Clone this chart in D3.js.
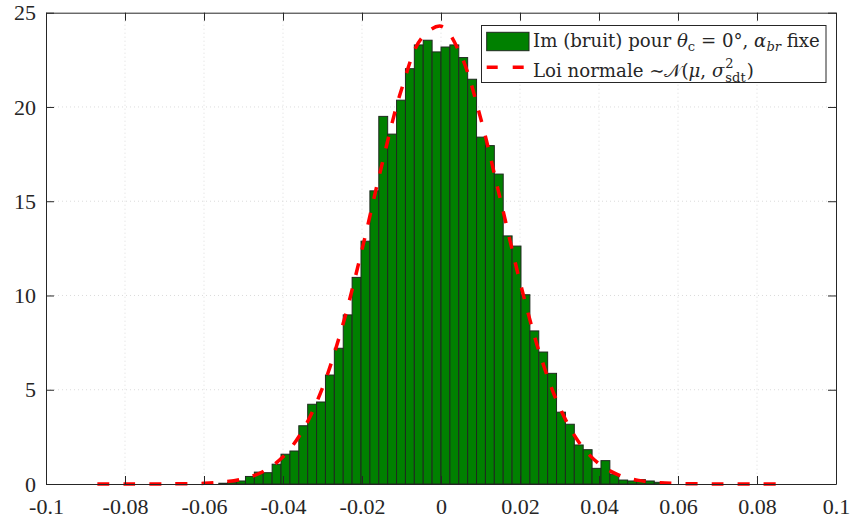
<!DOCTYPE html>
<html><head><meta charset="utf-8">
<script src="https://cdn.jsdelivr.net/npm/d3@7"></script>
<style>body{margin:0;background:#fff}svg{display:block}</style>
</head><body><svg id="c" width="854" height="524"></svg>
<script>
// Histogram bin edges (left edges + final right edge)
const binEdges = [-0.05625,-0.054,-0.05175,-0.0495,-0.04725,-0.045,-0.04275,-0.0405,-0.03825,-0.036,
 -0.03375,-0.0315,-0.02925,-0.027,-0.02475,-0.0225,-0.02025,-0.018,-0.01575,-0.0135,
 -0.01125,-0.009,-0.00675,-0.0045,-0.00225,0,0.00225,0.0045,0.00675,0.009,
 0.01125,0.0135,0.01575,0.018,0.02025,0.0225,0.02475,0.027,0.02925,0.0315,
 0.03375,0.036,0.03825,0.0405,0.04275,0.045,0.04725,0.0495,0.05175,0.054,0.05625];
// Density of each bin
const density = [0.04,0.09,0.16,0.40,0.63,0.60,1.05,1.58,1.75,3.09,
 4.23,4.35,5.78,7.20,8.97,10.96,12.88,15.55,19.50,18.56,
 20.36,22.03,23.29,23.54,22.92,23.18,23.29,22.62,21.47,18.40,
 17.95,16.44,13.16,12.62,10.04,8.12,7.00,5.87,3.81,3.17,
 2.07,1.82,0.83,1.24,0.52,0.21,0.16,0.23,0.16,0.09];
// Normal curve samples
const curveX = [-0.087,-0.08,-0.07,-0.06,-0.055,-0.05,-0.045,-0.04,-0.035,-0.03,-0.025,-0.02,-0.015,-0.01,-0.005,0,
 0.005,0.01,0.015,0.02,0.025,0.03,0.035,0.04,0.045,0.05,0.055,0.06,0.07,0.08,0.085];
const curveY = [0,0.0002,0.0035,0.038,0.108,0.28,0.665,1.44,2.84,5.10,8.34,12.43,16.90,20.93,23.62,24.28,
 22.76,19.43,15.12,10.72,6.92,4.08,2.19,1.07,0.476,0.193,0.0715,0.024,0.002,0,0];
const xTicks = [-0.1,-0.08,-0.06,-0.04,-0.02,0,0.02,0.04,0.06,0.08,0.1];
const xTickLabels = ["-0.1","-0.08","-0.06","-0.04","-0.02","0","0.02","0.04","0.06","0.08","0.1"];
const yTicks = [0,5,10,15,20,25];

const svg = d3.select("#c");
const L=46, R=836, T=12.7, B=484;
const x = d3.scaleLinear().domain([-0.1,0.1]).range([L,R]);
const y = d3.scaleLinear().domain([0,25]).range([B,T]);
const axisCol = "#262626";
const tickFont = "'Liberation Serif', serif";
const legFont = "'DejaVu Serif', serif";

// grid
const g = svg.append("g");
g.selectAll(".gx").data(xTicks.slice(1,-1)).join("line")
 .attr("x1",d=>x(d)).attr("x2",d=>x(d)).attr("y1",T).attr("y2",B)
 .attr("stroke","#dcdcdc").attr("stroke-width",1).attr("stroke-dasharray","1,3");
g.selectAll(".gy").data(yTicks.slice(1,-1)).join("line")
 .attr("y1",d=>y(d)).attr("y2",d=>y(d)).attr("x1",L).attr("x2",R)
 .attr("stroke","#dcdcdc").attr("stroke-width",1).attr("stroke-dasharray","1,3");

// bars
svg.append("g").selectAll("rect").data(density).join("rect")
 .attr("x",(d,i)=>x(binEdges[i]))
 .attr("width",(d,i)=>x(binEdges[i+1])-x(binEdges[i]))
 .attr("y",d=>y(d)).attr("height",d=>B-y(d))
 .attr("fill","#008000").attr("stroke","#1f2a1f").attr("stroke-width",1);

// curve
const pts = curveX.map((v,i)=>[v,curveY[i]]);
svg.append("path").datum(pts)
 .attr("d",d3.line().x(d=>x(d[0])).y(d=>y(d[1])).curve(d3.curveCatmullRom))
 .attr("fill","none").attr("stroke","#ff0000").attr("stroke-width",3.5)
 .attr("stroke-dasharray","12,14");

// axes
const xa = svg.append("g").attr("transform",`translate(0,${B})`)
 .call(d3.axisBottom(x).tickValues(xTicks).tickFormat((d,i)=>xTickLabels[i]).tickSizeInner(-8).tickSizeOuter(0).tickPadding(14));
const xt = svg.append("g").attr("transform",`translate(0,${T})`)
 .call(d3.axisTop(x).tickValues(xTicks).tickFormat("").tickSizeInner(-8).tickSizeOuter(0));
const ya = svg.append("g").attr("transform",`translate(${L},0)`)
 .call(d3.axisLeft(y).tickValues(yTicks).tickSizeInner(-8).tickSizeOuter(0).tickPadding(10));
const yr = svg.append("g").attr("transform",`translate(${R},0)`)
 .call(d3.axisRight(y).tickValues(yTicks).tickFormat("").tickSizeInner(-8).tickSizeOuter(0));
[xa,xt,ya,yr].forEach(a=>{
 a.attr("font-family",tickFont).attr("font-size",22);
 a.selectAll("path").attr("stroke",axisCol).attr("stroke-width",1);
 a.selectAll("line").attr("stroke",axisCol);
 a.selectAll("text").attr("font-family",tickFont).attr("font-size",22).attr("fill",axisCol);
});
xa.selectAll("text").attr("dy","0.71em");

// legend
const lg = svg.append("g").attr("font-family",legFont);
lg.append("rect").attr("x",481.5).attr("y",25.5).attr("width",344.5).attr("height",57)
 .attr("fill","#fff").attr("stroke",axisCol).attr("stroke-width",1);
lg.append("rect").attr("x",486.7).attr("y",32.3).attr("width",42.3).attr("height",18.4)
 .attr("fill","#008000").attr("stroke","#1f2a1f");
lg.append("line").attr("x1",486.7).attr("x2",528).attr("y1",67.3).attr("y2",67.3)
 .attr("stroke","#ff0000").attr("stroke-width",3.5).attr("stroke-dasharray","11,15");

function row1(fs){
 const sfs = fs*0.72;
 const t1 = lg.append("text").attr("x",533).attr("y",47.3).attr("font-size",fs).attr("fill",axisCol);
 t1.append("tspan").text("Im (bruit) pour ");
 t1.append("tspan").attr("font-style","italic").text("θ");
 t1.append("tspan").attr("font-size",sfs).attr("dy",4).text("c");
 t1.append("tspan").attr("dy",-4).text(" = 0°, ");
 t1.append("tspan").attr("font-style","italic").text("α");
 t1.append("tspan").attr("font-size",sfs).attr("font-style","italic").attr("dy",4).text("br");
 t1.append("tspan").attr("dy",-4).text(" fixe");
 return t1;
}
let base = 17;
let t1 = row1(base);
const w1 = t1.node().getComputedTextLength();
const fs = base * 287 / w1;
t1.remove();
row1(fs);
const sfs = fs*0.72;
const t2 = lg.append("text").attr("x",533).attr("y",77.3).attr("font-size",fs).attr("fill",axisCol);
t2.append("tspan").text("Loi normale ∼");
t2.append("tspan").text("𝒩");
t2.append("tspan").text("(");
t2.append("tspan").attr("font-style","italic").text("μ");
t2.append("tspan").text(", ");
t2.append("tspan").attr("font-style","italic").text("σ");
const w2 = t2.node().getComputedTextLength();
lg.append("text").attr("x",533+w2+1).attr("y",77.3-9).attr("font-size",sfs).attr("fill",axisCol).text("2");
const sub = lg.append("text").attr("x",533+w2+1).attr("y",77.3+5).attr("font-size",sfs).attr("fill",axisCol).text("sdt");
const ws = sub.node().getComputedTextLength();
lg.append("text").attr("x",533+w2+1+ws+1).attr("y",77.3).attr("font-size",fs).attr("fill",axisCol).text(")");
</script></body></html>
